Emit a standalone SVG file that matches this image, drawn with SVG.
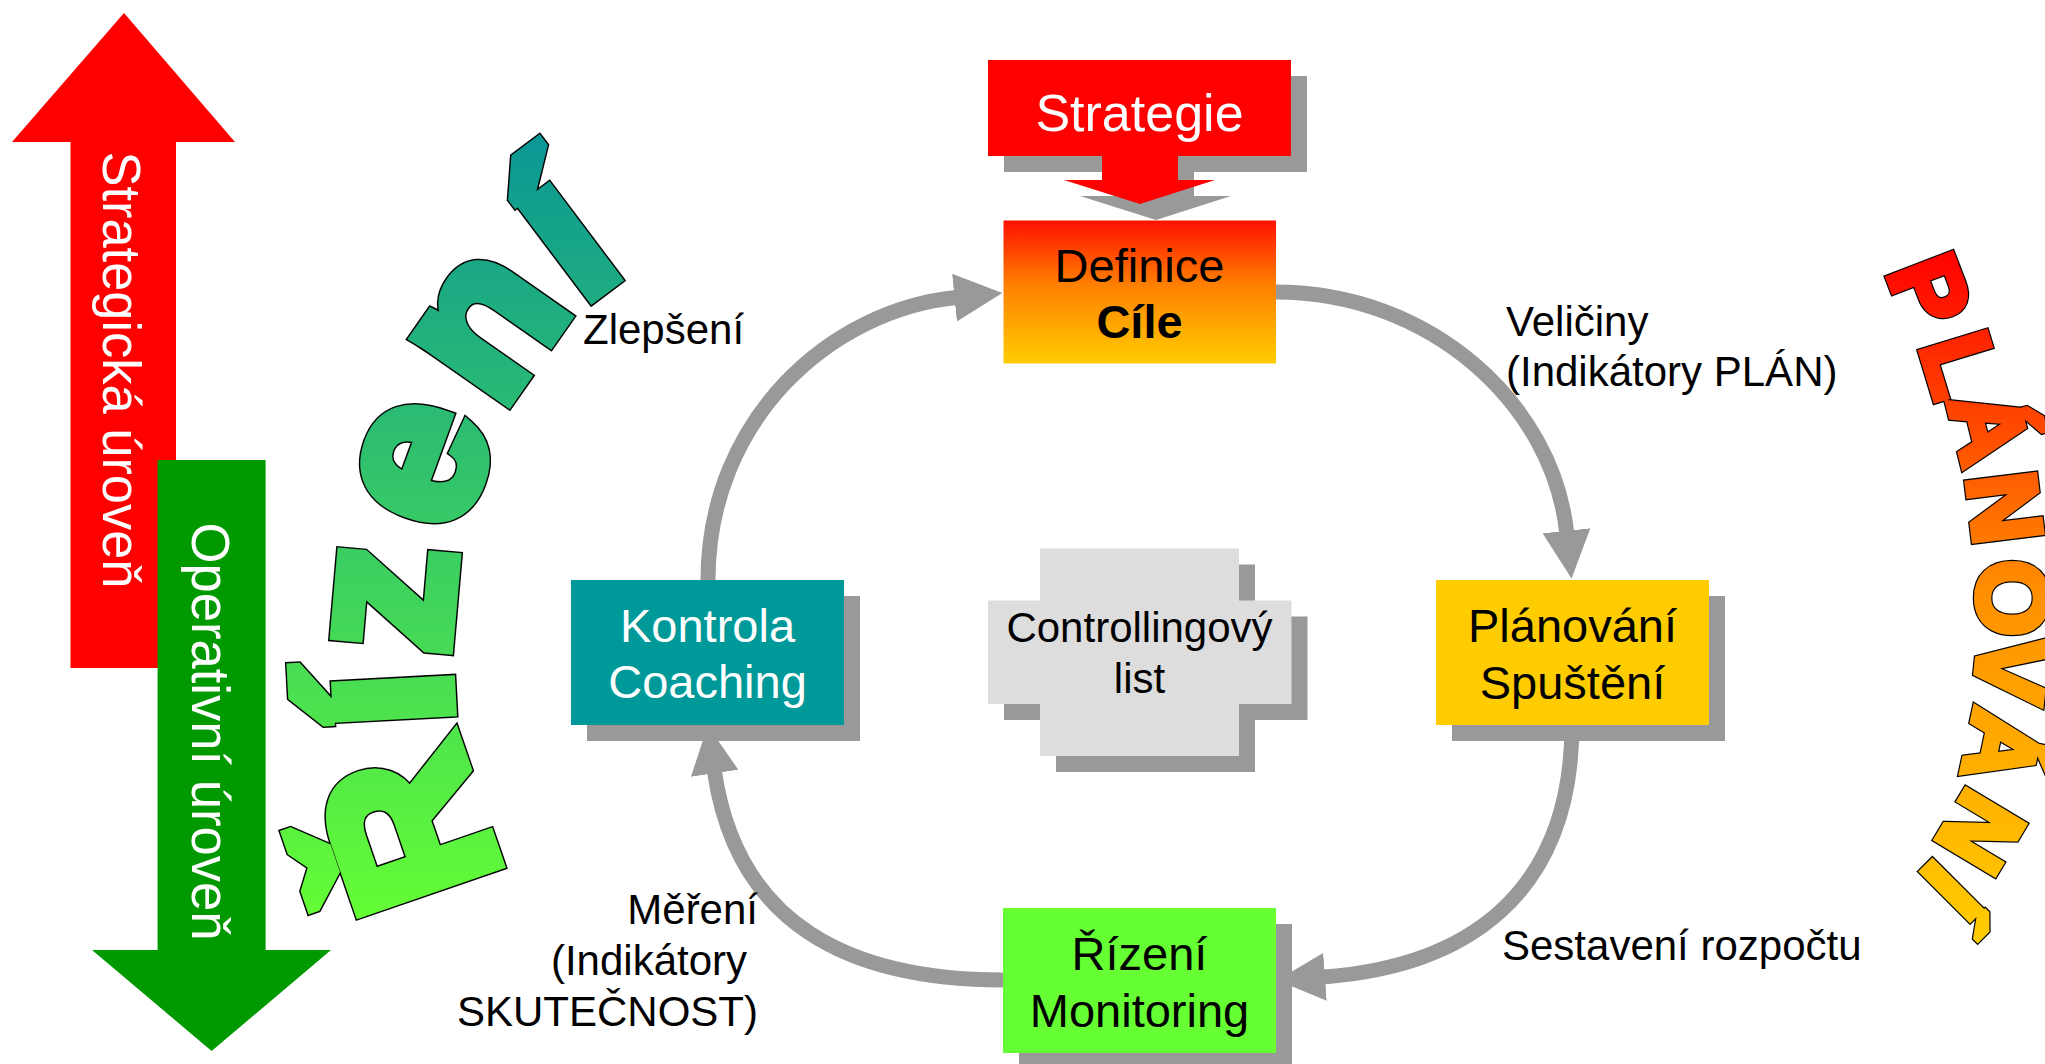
<svg xmlns="http://www.w3.org/2000/svg" xmlns:xlink="http://www.w3.org/1999/xlink" width="2045" height="1064" viewBox="0 0 2045 1064">
  <defs>
    <style>
      text { font-family: "Liberation Sans", Arial, sans-serif; }
      .lbl { font-size: 42px; fill: #000; }
      .t47 { font-size: 47px; text-anchor: middle; }
      .t42 { font-size: 42px; text-anchor: middle; }
      .white { fill: #fff; }
      .black { fill: #000; }
      .shadow { fill: #999999; }
      .conn { fill: none; stroke: #999999; stroke-width: 15; marker-end: url(#ah); }
      .wa { font-weight: bold; text-anchor: middle; }
      .wa-r { font-size: 212px; }
      .wa-p { font-size: 98px; }
      .r-out { fill: #000; stroke: #000; stroke-width: 15; }
      .r-mask { fill: #fff; stroke: #fff; stroke-width: 12; }
      .p-out { fill: #000; stroke: #000; stroke-width: 8.5; }
      .p-mask { fill: #fff; stroke: #fff; stroke-width: 6; }
    </style>
    <marker id="ah" markerUnits="userSpaceOnUse" markerWidth="48" markerHeight="48" viewBox="0 0 48 48" refX="2" refY="24" orient="auto">
      <path d="M0,0 L48,24 L0,48 Z" fill="#999999"/>
    </marker>
    <linearGradient id="gDef" x1="0" y1="0" x2="0" y2="1">
      <stop offset="0" stop-color="#ff1000"/>
      <stop offset="0.45" stop-color="#ff8000"/>
      <stop offset="1" stop-color="#ffcc00"/>
    </linearGradient>
    <linearGradient id="gRiz" gradientUnits="userSpaceOnUse" x1="0" y1="130" x2="0" y2="930">
      <stop offset="0" stop-color="#0a9696"/>
      <stop offset="1" stop-color="#66ff33"/>
    </linearGradient>
    <linearGradient id="gPlan" gradientUnits="userSpaceOnUse" x1="0" y1="250" x2="0" y2="940">
      <stop offset="0" stop-color="#ff0000"/>
      <stop offset="0.5" stop-color="#ff9000"/>
      <stop offset="1" stop-color="#ffcc00"/>
    </linearGradient>
    <g id="rizLetters" class="wa wa-r">
      <text transform="translate(478,805) rotate(-109)">Ř</text>
      <text transform="translate(450,696) rotate(-93)">í</text>
      <text transform="translate(451,604) rotate(-85)">z</text>
      <text transform="translate(477,483) rotate(-70)">e</text>
      <text transform="translate(537,360) rotate(-55)">n</text>
      <text transform="translate(604,288) rotate(-37)">í</text>
    </g>
    <g id="planLetters" class="wa wa-p">
      <text transform="translate(1898,302.6) rotate(69)">P</text>
      <text transform="translate(1928,374.4) rotate(73)">L</text>
      <text transform="translate(1956,435) rotate(76)">Á</text>
      <text transform="translate(1971,512) rotate(83)">N</text>
      <text transform="translate(1977.5,598) rotate(90)">O</text>
      <text transform="translate(1977,666) rotate(96)">V</text>
      <text transform="translate(1969,740) rotate(102)">Á</text>
      <text transform="translate(1951.5,814.5) rotate(121)">N</text>
      <text transform="translate(1927.5,866.7) rotate(135)">Í</text>
    </g>
    <mask id="mRiz" maskUnits="userSpaceOnUse" x="0" y="0" width="2045" height="1064">
      <use xlink:href="#rizLetters" href="#rizLetters" class="r-mask"/>
    </mask>
    <mask id="mPlan" maskUnits="userSpaceOnUse" x="0" y="0" width="2045" height="1064">
      <use xlink:href="#planLetters" href="#planLetters" class="p-mask"/>
    </mask>
  </defs>

  <rect x="0" y="0" width="2045" height="1064" fill="#ffffff"/>

  <!-- Level arrows -->
  <g id="strategic-level">
    <path d="M124,13 L235,142 L176,142 L176,668 L70.5,668 L70.5,142 L12,142 Z" fill="#ff0000"/>
    <text class="white" transform="translate(103,370) rotate(90)" text-anchor="middle" font-size="54" textLength="437" lengthAdjust="spacingAndGlyphs">Strategická úroveň</text>
  </g>
  <g id="operative-level">
    <path d="M157.6,460 H265.6 V950 H331 L211.6,1051 L92,950 H157.6 Z" fill="#009900"/>
    <text class="white" transform="translate(192,731.5) rotate(90)" text-anchor="middle" font-size="54" textLength="418" lengthAdjust="spacingAndGlyphs">Operativní úroveň</text>
  </g>

  <!-- WordArt -->
  <g id="wordart-rizeni">
    <use xlink:href="#rizLetters" href="#rizLetters" class="r-out"/>
    <rect x="0" y="0" width="2045" height="1064" fill="url(#gRiz)" mask="url(#mRiz)"/>
  </g>
  <g id="wordart-planovani">
    <use xlink:href="#planLetters" href="#planLetters" class="p-out"/>
    <rect x="0" y="0" width="2045" height="1064" fill="url(#gPlan)" mask="url(#mPlan)"/>
  </g>

  <!-- Connectors -->
  <g id="connectors">
    <path class="conn" d="M708,580 C708,420 830,310 956.5,297.5"/>
    <path class="conn" d="M1276,292 C1430,292 1553,403.6 1566.7,532.8"/>
    <path class="conn" d="M1572,724 C1572,900 1460,967 1323,977"/>
    <path class="conn" d="M1003,980 C850,980 737,925 714.4,771.3"/>
  </g>

  <!-- Nodes -->
  <g id="node-strategie">
    <path class="shadow" transform="translate(16,16)" d="M988,60 H1291 V156 H1178 V180 H1215 L1140,204 L1064,180 H1102 V156 H988 Z"/>
    <path fill="#ff0000" d="M988,60 H1291 V156 H1178 V180 H1215 L1140,204 L1064,180 H1102 V156 H988 Z"/>
    <text class="white" x="1139.5" y="131" text-anchor="middle" font-size="52">Strategie</text>
  </g>
  <g id="node-definice">
    <rect x="1003.5" y="220.5" width="272.5" height="143" fill="url(#gDef)"/>
    <text class="black t47" x="1139.5" y="282">Definice</text>
    <text class="black t47" x="1139.5" y="338" font-weight="bold">Cíle</text>
  </g>
  <g id="node-kontrola">
    <rect class="shadow" x="587" y="596" width="273" height="145"/>
    <rect x="571" y="580" width="273" height="145" fill="#009999"/>
    <text class="white t47" x="707.5" y="641.5">Kontrola</text>
    <text class="white t47" x="707.5" y="698">Coaching</text>
  </g>
  <g id="node-controlling">
    <path class="shadow" transform="translate(16,16)" d="M1040,548.5 H1239 V600.5 H1291.5 V704 H1239 V756 H1040 V704 H988 V600.5 H1040 Z"/>
    <path fill="#dddddd" d="M1040,548.5 H1239 V600.5 H1291.5 V704 H1239 V756 H1040 V704 H988 V600.5 H1040 Z"/>
    <text class="black t42" x="1139.5" y="642">Controllingový</text>
    <text class="black t42" x="1139.5" y="693">list</text>
  </g>
  <g id="node-planovani">
    <rect class="shadow" x="1452" y="596" width="273" height="145"/>
    <rect x="1436" y="580" width="273" height="145" fill="#ffcc00"/>
    <text class="black t47" x="1572.5" y="641.5">Plánování</text>
    <text class="black t47" x="1572.5" y="699">Spuštění</text>
  </g>
  <g id="node-rizeni">
    <rect class="shadow" x="1019" y="924" width="273" height="145"/>
    <rect x="1003" y="908" width="273" height="145" fill="#66ff33"/>
    <text class="black t47" x="1139.5" y="970">Řízení</text>
    <text class="black t47" x="1139.5" y="1027">Monitoring</text>
  </g>

  <!-- Connector labels -->
  <g id="labels">
    <text class="lbl" x="583" y="344">Zlepšení</text>
    <text class="lbl" x="1506" y="336">Veličiny</text>
    <text class="lbl" x="1506" y="386">(Indikátory PLÁN)</text>
    <text class="lbl" x="1502" y="960">Sestavení rozpočtu</text>
    <text class="lbl" x="758" y="924" text-anchor="end">Měření</text>
    <text class="lbl" x="747" y="975" text-anchor="end">(Indikátory</text>
    <text class="lbl" x="758" y="1026" text-anchor="end">SKUTEČNOST)</text>
  </g>
</svg>
